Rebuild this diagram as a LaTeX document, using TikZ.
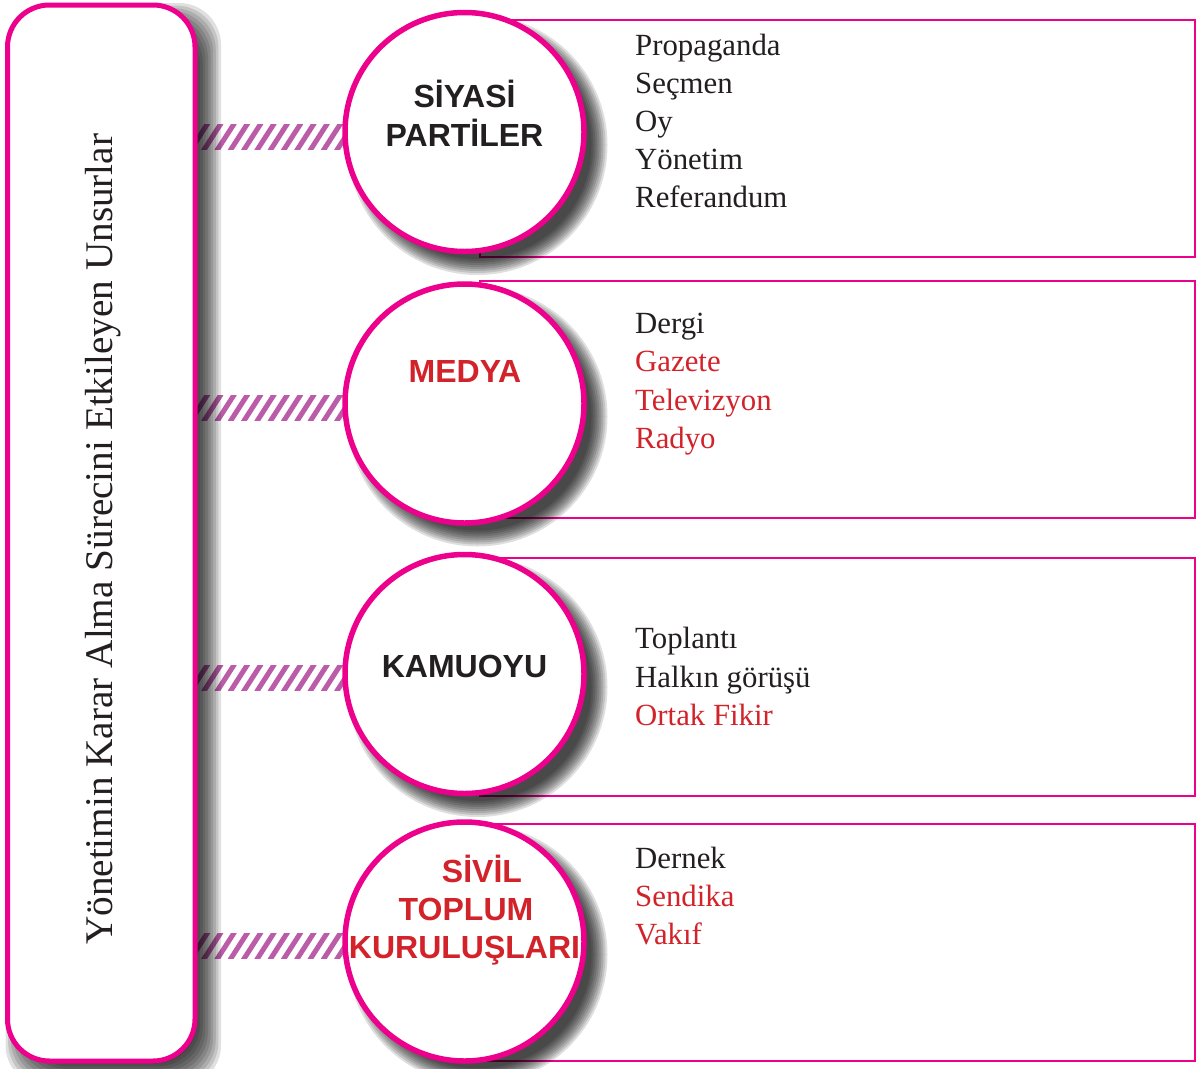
\documentclass[tikz,border=0pt]{standalone}
\usepackage{fontspec}
\setmainfont{Liberation Serif}
\newfontfamily\titlefont{Liberation Sans}
\definecolor{pinkc}{HTML}{EC008C}
\definecolor{redc}{HTML}{D2232A}
\definecolor{blackc}{HTML}{231F20}
\definecolor{hatchc}{HTML}{BA5CA8}
\newcommand\circshadow[3]{%
  \foreach \k in {0,...,8}{%
    \fill[black, opacity=0.125] (#1+13,#2+13) circle[radius=#3+8-2*\k];
  }}
\begin{document}
\begin{tikzpicture}[x=1pt,y=-1pt,
  mainbox/.style={draw=pinkc, line width=5pt, rounded corners=42pt, fill=white},
  listbox/.style={draw=pinkc, line width=2.2pt},
  topic/.style={circle, draw=pinkc, line width=5.5pt, fill=white, minimum size=239pt, inner sep=0pt},
  ttl/.style={inner sep=0pt, anchor=base, font=\titlefont\bfseries\fontsize{32}{36}\selectfont},
  item/.style={inner sep=0pt, anchor=base west, font=\fontsize{30.8}{36}\selectfont, text=blackc},
  reditem/.style={item, text=redc},
  hatchline/.style={draw=hatchc, line width=5pt}
]
\useasboundingbox (0,0) rectangle (1196,1068);
\fill[white] (0,0) rectangle (1196,1068);

% list boxes
\draw[listbox] (480,20) rectangle (1194.6,257);
\draw[listbox] (480,281) rectangle (1194.6,518);
\draw[listbox] (480,558) rectangle (1194.6,796);
\draw[listbox] (480,824) rectangle (1194.6,1061);

% hatched connectors
\foreach \cy/\n in {137/1,408/2,678/3,946/4}{
  \coordinate (ha\n) at (197,\cy);
  \coordinate (hb\n) at (345,\cy);
  \begin{scope}
    \clip (197,\cy-12.5) rectangle (345,\cy+12.5);
    \foreach \x in {190,203.3,...,360}{
      \draw[hatchline] (\x,\cy+14) -- (\x+18,\cy-14);
    }
  \end{scope}
}

% main box shadow and box
\foreach \k in {0,...,9}{
  \fill[black, opacity=0.12, rounded corners=42pt]
    (7.5+12-14+2.6*\k, 5+12-14+2.6*\k) rectangle (195+12+14-2.6*\k, 1061+12+14-2.6*\k);
}
\draw[mainbox] (7.5,5) rectangle (195,1061);
\node[rotate=90, anchor=base west, inner sep=0pt, font=\fontsize{39.2}{40}\selectfont, text=blackc]
  (lbl) at (112,945) {Yönetimin Karar Alma Sürecini Etkileyen Unsurlar};

% circles
\circshadow{464.5}{132}{122}
\node[topic] (c1) at (464.5,132) {};
\circshadow{464.5}{403.5}{122}
\node[topic] (c2) at (464.5,403.5) {};
\circshadow{464.5}{674}{122}
\node[topic] (c3) at (464.5,674) {};
\circshadow{464.5}{941.5}{122}
\node[topic] (c4) at (464.5,941.5) {};

% titles
\node[ttl, text=blackc] (t1a) at (464.5,107) {SİYASİ};
\node[ttl, text=blackc] (t1b) at (464.5,146) {PARTİLER};
\node[ttl, text=redc] (t2) at (465,382) {MEDYA};
\node[ttl, text=blackc] (t3) at (464.5,677) {KAMUOYU};
\node[ttl, text=redc] (t4a) at (482,882) {SİVİL};
\node[ttl, text=redc] (t4b) at (466,920) {TOPLUM};
\node[ttl, text=redc] (t4c) at (464.5,958) {KURULUŞLARI};

% lists
\node[item] (l1a) at (635,55) {Propaganda};
\node[item] (l1b) at (635,93) {Seçmen};
\node[item] (l1c) at (635,131) {Oy};
\node[item] (l1d) at (635,169) {Yönetim};
\node[item] (l1e) at (635,207) {Referandum};

\node[item] (l2a) at (635,333) {Dergi};
\node[reditem] (l2b) at (635,371) {Gazete};
\node[reditem] (l2c) at (635,410) {Televizyon};
\node[reditem] (l2d) at (635,448) {Radyo};

\node[item] (l3a) at (635,648) {Toplantı};
\node[item] (l3b) at (635,687) {Halkın görüşü};
\node[reditem] (l3c) at (635,725) {Ortak Fikir};

\node[item] (l4a) at (635,868) {Dernek};
\node[reditem] (l4b) at (635,906) {Sendika};
\node[reditem] (l4c) at (635,944) {Vakıf};
\end{tikzpicture}
\end{document}
